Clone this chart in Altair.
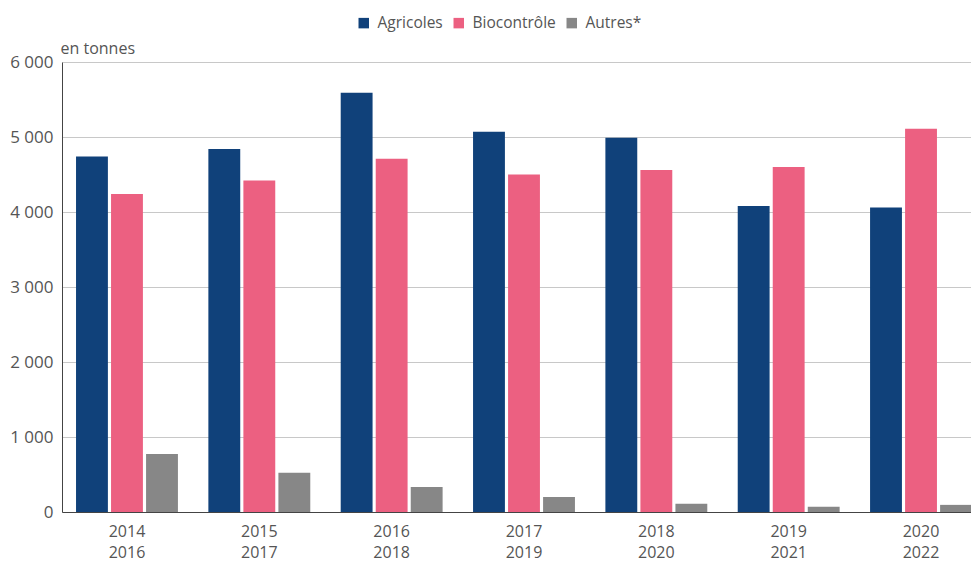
import altair as alt
import pandas as pd

periods = ["2014-2016", "2015-2017", "2016-2018", "2017-2019", "2018-2020", "2019-2021", "2020-2022"]
series = ["Agricoles", "Biocontrôle", "Autres*"]
agricoles = [4740, 4840, 5590, 5070, 4990, 4080, 4060]
biocontrole = [4240, 4420, 4710, 4500, 4560, 4600, 5110]
autres = [775, 525, 335, 200, 110, 70, 95]
colors = ["#10417A", "#EC6081", "#878787"]

rows = []
for i, p in enumerate(periods):
    rows.append({"periode": p, "serie": series[0], "valeur": agricoles[i]})
    rows.append({"periode": p, "serie": series[1], "valeur": biocontrole[i]})
    rows.append({"periode": p, "serie": series[2], "valeur": autres[i]})
df = pd.DataFrame(rows)

FONT = "Open Sans"
TXT = "#555555"

chart = alt.Chart(df).mark_bar().encode(
    x=alt.X("periode:N", sort=periods,
            scale=alt.Scale(range=[0, 924], paddingInner=0.23, paddingOuter=0.106),
            axis=alt.Axis(title=None, labelAngle=0, ticks=False, domainColor="#444444",
                          labelExpr="split(datum.value, '-')", labelLineHeight=21,
                          labelPadding=11, labelFontSize=16, labelColor=TXT,
                          labelFont=FONT, labelBaseline="top")),
    xOffset=alt.XOffset("serie:N", sort=series,
                        scale=alt.Scale(domain=series, paddingInner=0.09, paddingOuter=0)),
    y=alt.Y("valeur:Q",
            scale=alt.Scale(domain=[0, 6000], nice=False),
            axis=alt.Axis(title="en tonnes", titleAngle=0, titleAlign="left",
                          titleX=-2, titleY=-9, titleBaseline="alphabetic",
                          titleFont=FONT, titleFontSize=16, titleFontWeight="normal",
                          titleColor=TXT,
                          values=[0, 1000, 2000, 3000, 4000, 5000, 6000],
                          labelExpr="replace(format(datum.value, ',d'), ',', ' ')",
                          ticks=False, labelPadding=9, labelFontSize=17, labelColor=TXT,
                          labelFont=FONT, domainColor="#444444",
                          gridColor="#C8C8C8", gridWidth=1)),
    color=alt.Color("serie:N", sort=series,
                    scale=alt.Scale(domain=series, range=colors),
                    legend=alt.Legend(title=None, orient="none", direction="horizontal",
                                      legendX=294, legendY=-47,
                                      symbolType="square", symbolSize=110,
                                      symbolStrokeWidth=0,
                                      labelFont=FONT, labelFontSize=15.5, labelColor=TXT,
                                      columnPadding=8, labelOffset=6)),
).properties(
    width=909,
    height=450,
    autosize=alt.AutoSizeParams(type="none"),
    padding={"left": 54, "top": 54, "right": 0, "bottom": 49},
).configure_view(stroke=None)

chart.save("out.html", embed_options={"renderer": "svg", "actions": False})
